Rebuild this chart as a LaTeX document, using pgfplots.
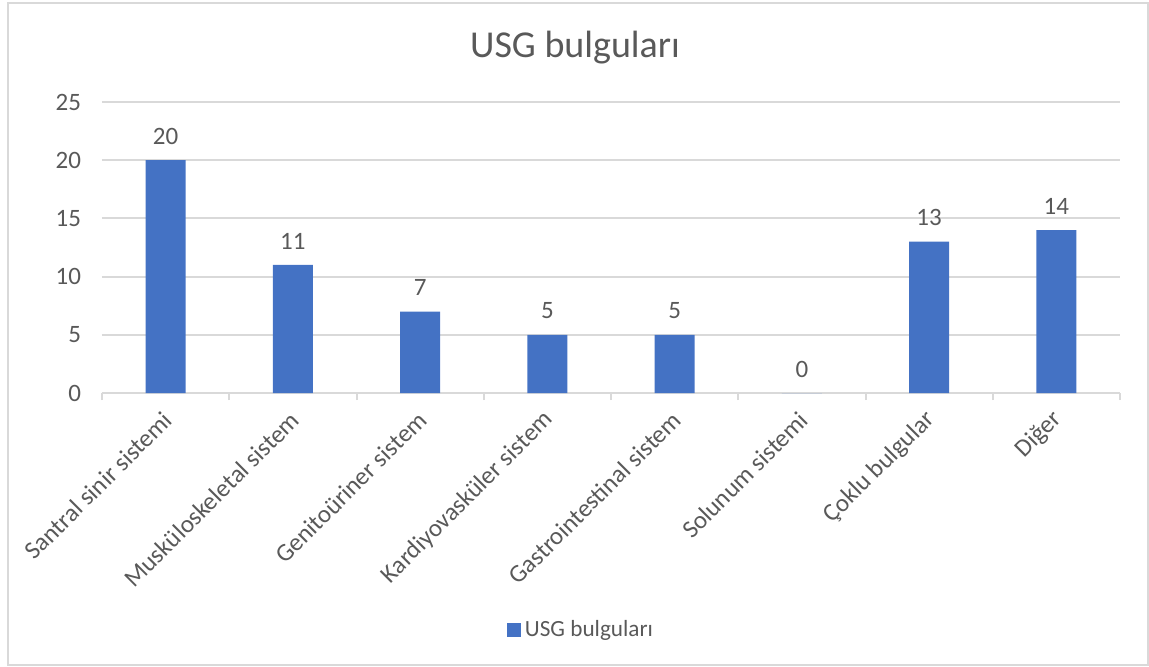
\documentclass[border=0pt]{standalone}
\usepackage{pgfplots}
\pgfplotsset{compat=1.18}
\usepackage{fontspec}
\setmainfont{Carlito}
\definecolor{barblue}{HTML}{4472C4}
\definecolor{txtgray}{HTML}{595959}
\definecolor{linegray}{HTML}{D9D9D9}
\begin{document}
\begin{tikzpicture}[x=0.5pt,y=-0.5pt]
\useasboundingbox (0,0) rectangle (1149,667);
\draw[linegray, line width=1pt] (8,3) rectangle (1148,665);
\node[font=\fontsize{19}{22}\selectfont, text=txtgray] at (575,48) {USG bulguları};
\begin{axis}[
  at={(51pt,-196.5pt)}, anchor=south west,
  scale only axis, width=509pt, height=145.5pt,
  ybar, bar width=20pt,
  xmin=-0.5, xmax=7.5, ymin=0, ymax=25,
  ytick={0,5,...,25},
  xtick=data,
  xticklabels={Santral sinir sistemi, Musküloskeletal sistem, Genitoüriner sistem, Kardiyovasküler sistem, Gastrointestinal sistem, Solunum sistemi, Çoklu bulgular, Diğer},
  minor xtick={-0.5,0.5,...,7.5},
  axis x line*=bottom, axis y line*=left,
  x axis line style={linegray, line width=1pt, -},
  y axis line style={draw=none},
  ymajorgrids, grid style={linegray, line width=1pt},
  major tick length=0pt, minor tick length=3.5pt, tick align=outside,
  minor tick style={linegray, line width=1pt},
  major tick style={draw=none},
  tick label style={font=\fontsize{12.5}{15}\selectfont, text=txtgray},
  /pgf/number format/assume math mode=true,
  yticklabel style={xshift=-7pt},
  xticklabel style={xshift=3.5pt, yshift=-9pt, rotate=45, anchor=east},
  nodes near coords,
  nodes near coords style={font=\fontsize{12.5}{15}\selectfont, text=txtgray, yshift=4.3pt},
  legend style={at={(0.4715,-0.814)}, anchor=center, draw=none, fill=none,
    font=\fontsize{11.6}{14}\selectfont, text=txtgray},
  legend image code/.code={\fill[#1] (0pt,-3.5pt) rectangle (7pt,3.5pt);},
]
\addplot[fill=barblue, draw=none] coordinates {(0,20) (1,11) (2,7) (3,5) (4,5) (5,0) (6,13) (7,14)};
\legend{USG bulguları}
\end{axis}
\end{tikzpicture}
\end{document}
